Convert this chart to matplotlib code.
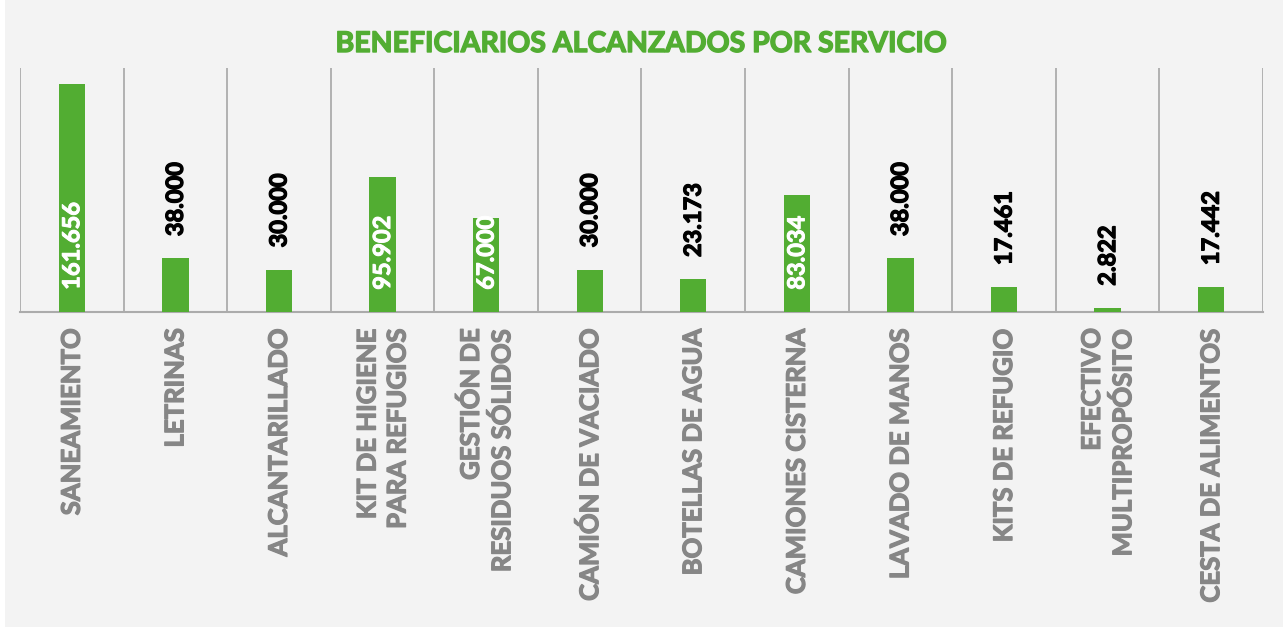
import matplotlib
matplotlib.use("Agg")
import matplotlib.pyplot as plt
from matplotlib.patches import Rectangle
import matplotlib.patheffects as pe

categories = ["SANEAMIENTO", "LETRINAS", "ALCANTARILLADO", "KIT DE HIGIENE\nPARA REFUGIOS",
              "GESTIÓN DE\nRESIDUOS SÓLIDOS", "CAMIÓN DE VACIADO", "BOTELLAS DE AGUA",
              "CAMIONES CISTERNA", "LAVADO DE MANOS", "KITS DE REFUGIO",
              "EFECTIVO\nMULTIPROPÓSITO", "CESTA DE ALIMENTOS"]
values = [161656, 38000, 30000, 95902, 67000, 30000, 23173, 83034, 38000, 17461, 2822, 17442]
value_labels = ["161.656", "38.000", "30.000", "95.902", "67.000", "30.000", "23.173",
                "83.034", "38.000", "17.461", "2.822", "17.442"]
title = "BENEFICIARIOS ALCANZADOS POR SERVICIO"

BG = "#f3f3f3"
GREEN = "#52ad32"
GRID = "#ababab"
LABEL = "#868686"
FONT = ["Lato", "DejaVu Sans"]
W = "bold"


def thick(color, lw=0.9):
    return [pe.withStroke(linewidth=lw, foreground=color)]


fig = plt.figure(figsize=(12.83, 6.27), dpi=100, facecolor=BG)
fig.patches.append(Rectangle((0, 0), 5 / 1283, 1, transform=fig.transFigure,
                             facecolor="white", edgecolor="none", zorder=0))
ax = fig.add_axes([20 / 1283, (627 - 312) / 627, (1263 - 20) / 1283, (312 - 68) / 627])
ax.set_facecolor(BG)

n = len(categories)
x = list(range(n))
ax.bar(x, values, width=0.255, color=GREEN, zorder=3)
ax.set_xlim(-0.5, n - 0.5)
ax.set_ylim(0, 173000)

for b in [i - 0.5 for i in range(n + 1)]:
    ax.axvline(b, color=GRID, lw=1.3, zorder=1)
for s in ["top", "left", "right"]:
    ax.spines[s].set_visible(False)
ax.spines["bottom"].set_color(GRID)
ax.spines["bottom"].set_linewidth(1.5)
ax.set_yticks([])
ax.set_xticks(x)
ax.set_xticklabels(categories, rotation=90, ha="center", va="top", multialignment="right",
                   color=LABEL, fontsize=18.5, fontweight=W, family=FONT,
                   linespacing=1.3)
for t in ax.get_xticklabels():
    t.set_path_effects(thick(LABEL))
ax.tick_params(axis="x", length=0, pad=11)

for xi, v, lab in zip(x, values, value_labels):
    if v > 60000:
        ax.annotate(lab, (xi, 0), xytext=(0, 16), textcoords="offset points",
                    rotation=90, ha="center", va="bottom", color="white",
                    fontsize=17, fontweight=W, family=FONT, zorder=4,
                    path_effects=thick("white", 0.7))
    else:
        ax.annotate(lab, (xi, v), xytext=(0, 16), textcoords="offset points",
                    rotation=90, ha="center", va="bottom", color="black",
                    fontsize=17, fontweight=W, family=FONT, zorder=4,
                    path_effects=thick("black", 0.9))

fig.text(641 / 1283, 1 - 44 / 627, title, ha="center", va="center", color=GREEN,
         fontsize=20.5, fontweight=W, family=FONT, path_effects=thick(GREEN, 1.0))

fig.savefig("out.png", dpi=100, facecolor=BG)
